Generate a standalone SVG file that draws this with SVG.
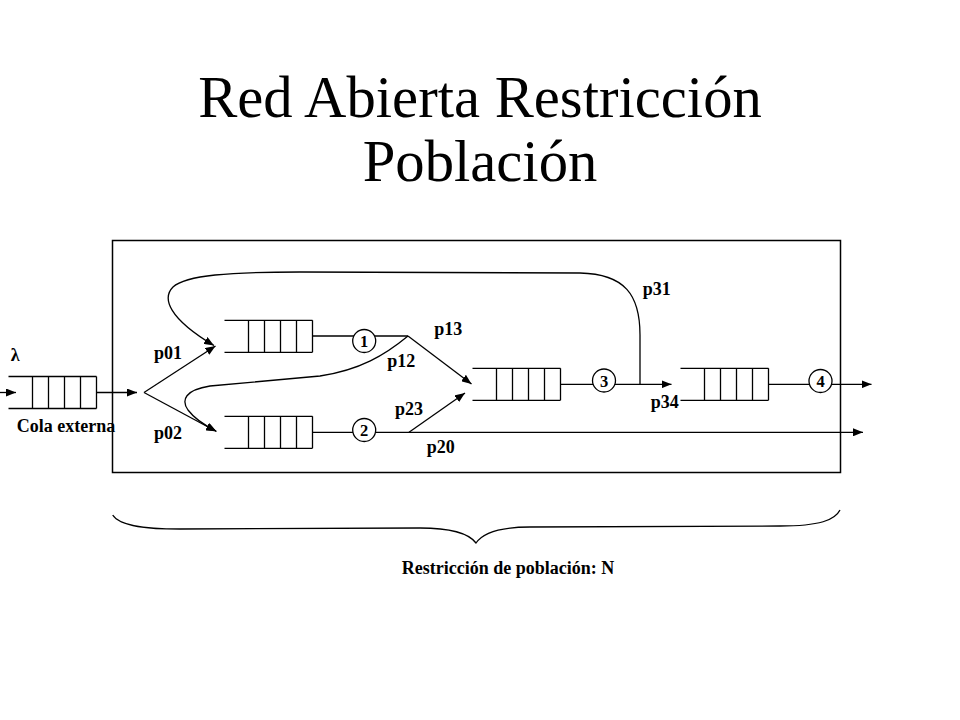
<svg xmlns="http://www.w3.org/2000/svg" xmlns:xlink="http://www.w3.org/1999/xlink" width="960" height="720" viewBox="0 0 960 720">
<style>
  .ln{fill:none;stroke:#000;stroke-width:1.3}
  .title{font-family:"Liberation Serif","Times New Roman",serif;font-size:58.67px;fill:#000;text-anchor:middle}
  .lbl{font-family:"Liberation Serif","Times New Roman",serif;font-size:18px;font-weight:bold;fill:#000}
  .num{font-family:"Liberation Serif","Times New Roman",serif;font-size:16.5px;font-weight:bold;fill:#000;text-anchor:middle}
  .srv{fill:#fff;stroke:#000;stroke-width:1.3}
</style>
<defs>
  <marker id="ah" markerUnits="userSpaceOnUse" markerWidth="10" markerHeight="8" refX="10" refY="4" orient="auto">
    <path d="M0,0 L10,4 L0,8 z" fill="#000"/>
  </marker>
  <g id="queue">
    <path class="ln" d="M0,0 H88 M0,32 H88 M24,0 V32 M40,0 V32 M56,0 V32 M72,0 V32 M88,0 V32"/>
  </g>
</defs>
<rect width="960" height="720" fill="#fff"/>
<g id="title">
  <text class="title" x="480" y="117">Red Abierta Restricción</text>
  <text class="title" x="480" y="181">Población</text>
</g>
<rect id="frame" x="112.5" y="240.5" width="728" height="232" fill="none" stroke="#000" stroke-width="1.5"/>
<g id="connectors">
  <path class="ln" d="M0,392.5 H16" marker-end="url(#ah)"/>
  <path class="ln" d="M96.5,392.5 H137" marker-end="url(#ah)"/>
  <path class="ln" d="M144,392.5 L215.5,346" marker-end="url(#ah)"/>
  <path class="ln" d="M144,392.5 L216.5,431.5" marker-end="url(#ah)"/>
  <path class="ln" d="M312.5,336 H408"/>
  <path class="ln" d="M408,336 L471.5,384" marker-end="url(#ah)"/>
  <path class="ln" d="M408,336 C385,355 360,370 320,376 L210,386 C185,390 181,400 188,410 C194,418 204,425 216,431" marker-end="url(#ah)"/>
  <path class="ln" d="M312.5,432.3 H863" marker-end="url(#ah)"/>
  <path class="ln" d="M409,432.3 L465,393" marker-end="url(#ah)"/>
  <path class="ln" d="M560.5,384.3 H671.5" marker-end="url(#ah)"/>
  <path class="ln" d="M640,384.3 L640,335 C640,295 625,274 580,273 L300,272 C230,272 186,275 173,287 C162,298 168,318 214,345.5" marker-end="url(#ah)"/>
  <path class="ln" d="M768.5,384.3 H871.5" marker-end="url(#ah)"/>
</g>
<g id="queue-ext"><use xlink:href="#queue" x="8.5" y="376.5"/></g>
<g id="queue-1"><use xlink:href="#queue" x="224.5" y="320.3"/></g>
<g id="queue-2"><use xlink:href="#queue" x="224.5" y="416.3"/></g>
<g id="queue-3"><use xlink:href="#queue" x="472.5" y="368.3"/></g>
<g id="queue-4"><use xlink:href="#queue" x="680.5" y="368.3"/></g>
<g id="server-1"><circle class="srv" cx="364.2" cy="341" r="11.5"/><text class="num" x="364.2" y="347">1</text></g>
<g id="server-2"><circle class="srv" cx="364.2" cy="430" r="11.5"/><text class="num" x="364.2" y="436">2</text></g>
<g id="server-3"><circle class="srv" cx="604" cy="380.5" r="11.5"/><text class="num" x="604" y="386.5">3</text></g>
<g id="server-4"><circle class="srv" cx="820.5" cy="381" r="11.5"/><text class="num" x="820.5" y="387">4</text></g>
<g id="labels">
  <text class="lbl" x="10.7" y="360.7">λ</text>
  <text class="lbl" x="16.7" y="431.7">Cola externa</text>
  <text class="lbl" x="154" y="359">p01</text>
  <text class="lbl" x="154" y="439.3">p02</text>
  <text class="lbl" x="434.3" y="335">p13</text>
  <text class="lbl" x="387.3" y="367.3">p12</text>
  <text class="lbl" x="395" y="415">p23</text>
  <text class="lbl" x="426.7" y="453.3">p20</text>
  <text class="lbl" x="642.7" y="295">p31</text>
  <text class="lbl" x="650.7" y="408.3">p34</text>
</g>
<g id="brace">
  <path class="ln" d="M112.7,515 C120,527 150,529 180,529 L420,528 C455,528 470,535 476,543 C482,534 497,527 530,527 L780,526 C820,526 835,520 840,510"/>
  <text class="lbl" x="401.7" y="574">Restricción de población: N</text>
</g>
</svg>
